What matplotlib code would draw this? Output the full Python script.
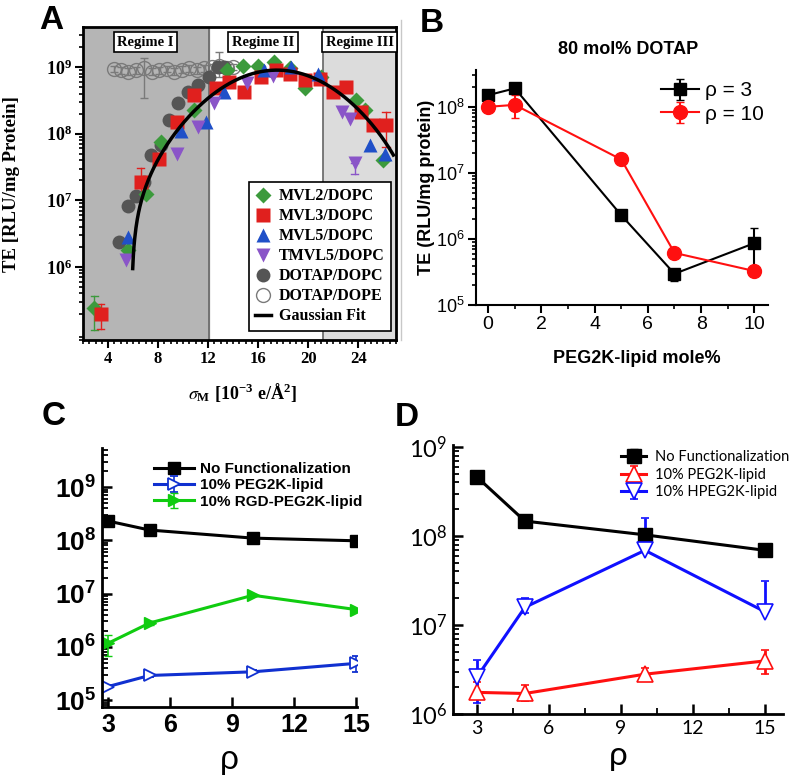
import numpy as np
import matplotlib.pyplot as plt
from matplotlib.ticker import LogLocator, MultipleLocator, NullFormatter
from matplotlib.lines import Line2D
from matplotlib.font_manager import FontProperties

# ---------------- panel A : TE vs membrane charge density (values as log10 TE)
mvl2_x = [2.9, 5.6, 7.0, 8.2, 10.9, 13.5, 14.8, 16.0, 17.3, 18.5, 19.7, 21.0, 23.8, 24.5, 26.0]
mvl2_log = [5.38, 6.26, 7.1, 7.88, 8.35, 8.95, 9.02, 9.02, 9.07, 8.98, 8.68, 8.85, 8.5, 8.35, 7.6]

mvl3_x = [3.4, 6.6, 8.1, 9.5, 10.9, 12.6, 13.7, 14.9, 16.2, 17.4, 18.5, 19.7, 20.9, 22.0, 23.0, 24.2, 25.2, 26.2]
mvl3_log = [5.3, 7.28, 7.62, 8.17, 8.58, 8.68, 8.78, 8.62, 8.85, 8.95, 8.9, 8.8, 8.82, 8.63, 8.7, 8.33, 8.13, 8.13]

mvl5_x = [5.6, 9.8, 11.8, 13.3, 16.5, 18.6, 20.8, 24.9, 26.1]
mvl5_log = [6.45, 8.04, 8.17, 8.63, 8.95, 9.0, 8.9, 7.83, 7.7]

tmvl5_x = [5.4, 9.5, 11.2, 12.5, 15.1, 17.2, 22.7, 23.3, 23.7]
tmvl5_log = [6.1, 7.7, 8.1, 8.46, 8.76, 8.86, 8.33, 8.22, 7.56]

dopc_x = [4.9, 5.6, 6.2, 6.9, 7.4, 8.2, 8.9, 9.6, 10.4, 11.2, 12.1, 12.8, 13.3]
dopc_log = [6.38, 6.92, 7.06, 7.28, 7.68, 7.83, 8.2, 8.46, 8.63, 8.73, 8.85, 9.0, 9.0]

dope_x = [4.5, 5.0, 5.6, 6.2, 6.9, 7.5, 8.1, 8.7, 9.3, 9.9, 10.5, 11.1, 11.7, 12.3, 12.9, 13.5, 14.0]
dope_log = [8.97, 8.95, 8.93, 8.95, 8.98, 8.93, 8.95, 8.97, 8.93, 8.96, 8.98, 8.95, 8.98, 9.0, 9.02, 8.98, 9.0]
dope_lo = [8.92, 8.9, 8.88, 8.9, 8.53, 8.88, 8.9, 8.92, 8.88, 8.91, 8.93, 8.9, 8.93, 8.95, 8.85, 8.93, 8.95]
dope_hi = [9.02, 9.0, 8.98, 9.0, 9.13, 8.98, 9.0, 9.02, 8.98, 9.01, 9.03, 9.0, 9.03, 9.05, 9.22, 9.03, 9.05]

# a few visible error bars on the coloured series
a_err_x = [2.9, 3.4, 6.6, 26.2, 23.7]
a_err_lo = [5.06, 5.07, 7.1, 7.8, 7.4]
a_err_hi = [5.57, 5.45, 7.49, 8.33, 7.56]
a_err_col = ['#3c9a3c', '#e0201e', '#e0201e', '#e0201e', '#8a55c8']

# Gaussian fit
fit_amp = 9.14e8
fit_center = 17.5
fit_sigma = 4.0
fit_offset = -1.34e7
fit_xmin, fit_xmax = 5.97, 26.8

regime1_end = 12.1
regime3_start = 21.2

# ---------------- panel B : 80 mol% DOTAP
b_x = [0, 1, 5, 7, 10]
b_rho3 = [1.5e8, 1.9e8, 2.3e6, 3.0e5, 8.7e5]
b_rho3_lo = [1.4e8, 1.75e8, 2.1e6, 2.3e5, 3.5e5]
b_rho3_hi = [1.6e8, 2.05e8, 2.6e6, 3.4e5, 1.45e6]
b_rho10 = [1.0e8, 1.07e8, 1.6e7, 6.2e5, 3.3e5]
b_rho10_lo = [9.3e7, 6.8e7, 1.5e7, 5.8e5, 2.9e5]
b_rho10_hi = [1.07e8, 1.5e8, 1.7e7, 6.6e5, 3.6e5]

# ---------------- panel C
c_rho = [3, 5, 10, 15]
c_none = [2.3e8, 1.56e8, 1.1e8, 9.8e7]
c_peg = [1.8e5, 2.9e5, 3.4e5, 4.9e5]
c_peg_lo = [1.7e5, 2.7e5, 3.2e5, 3.4e5]
c_peg_hi = [1.9e5, 3.1e5, 3.6e5, 6.6e5]
c_rgd = [1.17e6, 2.8e6, 9.3e6, 5.0e6]
c_rgd_lo = [6.6e5, 2.6e6, 8.9e6, 4.8e6]
c_rgd_hi = [1.66e6, 3.0e6, 9.7e6, 5.2e6]

# ---------------- panel D
d_rho = [3, 5, 10, 15]
d_none = [4.6e8, 1.47e8, 1.03e8, 6.9e7]
d_none_lo = [4.3e8, 1.35e8, 9.5e7, 6.3e7]
d_none_hi = [4.9e8, 1.6e8, 1.1e8, 7.5e7]
d_peg = [1.75e6, 1.7e6, 2.8e6, 3.95e6]
d_peg_lo = [1.48e6, 1.4e6, 2.35e6, 2.8e6]
d_peg_hi = [2.3e6, 2.1e6, 3.3e6, 5.2e6]
d_hpeg = [2.6e6, 1.58e7, 6.9e7, 1.41e7]
d_hpeg_lo = [1.33e6, 1.35e7, 6.9e7, 1.41e7]
d_hpeg_hi = [4.0e6, 2.0e7, 1.6e8, 3.1e7]

SERIF = 'Liberation Serif'
SANS = 'Liberation Sans'
CAL = 'Lato'

fig = plt.figure(figsize=(8.03, 7.75), dpi=100)


def log_minor(ax):
    ax.yaxis.set_minor_locator(LogLocator(base=10, subs=np.arange(2, 10), numticks=30))
    ax.yaxis.set_minor_formatter(NullFormatter())


def errs(vals, lo, hi):
    vals, lo, hi = np.array(vals), np.array(lo), np.array(hi)
    return [vals - lo, hi - vals]


def decade_labels(exps):
    return [r'$\mathregular{10^{%d}}$' % e for e in exps]


# ================= A
axA = fig.add_axes([0.1034, 0.561, 0.3896, 0.404])
axA.set_yscale('log')
axA.set_xlim(2, 27)
axA.set_ylim(10 ** 4.9, 10 ** 9.6)
axA.axvspan(2, regime1_end, color='#b5b5b5', zorder=0)
axA.axvspan(regime3_start, 27, color='#dcdcdc', zorder=0)
axA.axvline(regime1_end, color='#666666', lw=1.2, zorder=1)
axA.axvline(regime3_start, color='#666666', lw=1.2, zorder=1)

dl = np.array(dope_log)
axA.errorbar(dope_x, 10 ** dl, yerr=errs(10 ** dl, 10 ** np.array(dope_lo), 10 ** np.array(dope_hi)),
             fmt='o', ms=10, mfc='none', mec='#7a7a7a', ecolor='#7a7a7a', mew=1.0,
             elinewidth=1.0, capsize=3, zorder=2)
for x, lo, hi, col in zip(a_err_x, a_err_lo, a_err_hi, a_err_col):
    axA.plot([x, x], [10 ** lo, 10 ** hi], color=col, lw=1.0, zorder=2)
    for yy in (lo, hi):
        axA.plot([x - 0.3, x + 0.3], [10 ** yy, 10 ** yy], color=col, lw=1.0, zorder=2)

hA = []
hA.append(axA.plot(mvl2_x, 10 ** np.array(mvl2_log), 'D', ms=8, color='#3c9a3c', mec='none',
                   label='MVL2/DOPC', zorder=4)[0])
hA.append(axA.plot(mvl3_x, 10 ** np.array(mvl3_log), 's', ms=10, color='#e0201e', mec='none',
                   label='MVL3/DOPC', zorder=4)[0])
hA.append(axA.plot(mvl5_x, 10 ** np.array(mvl5_log), '^', ms=10, color='#2050c8', mec='none',
                   label='MVL5/DOPC', zorder=4)[0])
hA.append(axA.plot(tmvl5_x, 10 ** np.array(tmvl5_log), 'v', ms=10, color='#8a55c8', mec='none',
                   label='TMVL5/DOPC', zorder=4)[0])
hA.append(axA.plot(dopc_x, 10 ** np.array(dopc_log), 'o', ms=10, color='#555555', mec='none',
                   label='DOTAP/DOPC', zorder=3)[0])
hA.append(Line2D([], [], ls='none', marker='o', ms=10, mfc='none', mec='#7a7a7a', label='DOTAP/DOPE'))

fx = np.linspace(fit_xmin, fit_xmax, 400)
fy = fit_amp * np.exp(-(fx - fit_center) ** 2 / (2 * fit_sigma ** 2)) + fit_offset
hA.append(axA.plot(fx, fy, color='black', lw=2.5, label='Gaussian Fit', zorder=5)[0])

axA.set_xticks([4, 8, 12, 16, 20, 24], ['4', '8', '12', '16', '20', '24'],
               fontfamily=SERIF, fontweight='bold', fontsize=12)
axA.xaxis.set_minor_locator(MultipleLocator(0.5))
axA.set_yticks([1e6, 1e7, 1e8, 1e9], decade_labels([6, 7, 8, 9]),
               fontfamily=SERIF, fontweight='bold', fontsize=13)
log_minor(axA)
axA.tick_params(which='major', direction='out', length=6, width=1.5, pad=2)
axA.tick_params(which='minor', direction='out', length=3, width=1.2)
for s in axA.spines.values():
    s.set_linewidth(2)
axA.set_ylabel('TE [RLU/mg Protein]', fontfamily=SERIF, fontweight='bold', fontsize=13.5)
axA.yaxis.set_label_coords(-0.2, 0.5)
axA.set_xlabel(r'$\sigma_{\mathregular{M}}$ [10$^{\mathregular{-3}}$ e/Å$^{\mathregular{2}}$]',
               fontfamily=SERIF, fontweight='bold', fontsize=13, math_fontfamily='stix')
axA.xaxis.set_label_coords(0.51, -0.13)

for txt, xr in [('Regime I', 7.0), ('Regime II', 16.4), ('Regime III', 24.1)]:
    axA.text(xr, 0.952, txt, transform=axA.get_xaxis_transform(), ha='center', va='center',
             fontfamily=SERIF, fontweight='bold', fontsize=10.5,
             bbox=dict(boxstyle='square,pad=0.25', fc='white', ec='black', lw=1.2), zorder=6)

legA = axA.legend(handles=hA, loc='lower right', bbox_to_anchor=(0.985, 0.03),
                  prop=FontProperties(family=SERIF, weight='bold', size=11.5),
                  fancybox=False, edgecolor='black', framealpha=1, handlelength=1.0,
                  handletextpad=0.5, labelspacing=0.25, borderpad=0.4, borderaxespad=0)
legA.get_frame().set_linewidth(1.2)
legA.set_zorder(7)

# ================= B
axB = fig.add_axes([0.593, 0.606, 0.363, 0.304])
axB.set_yscale('log')
axB.errorbar(b_x, b_rho3, yerr=errs(b_rho3, b_rho3_lo, b_rho3_hi), color='black', marker='s',
             ms=9, lw=1.5, capsize=3, elinewidth=1.5, label='ρ = 3')
axB.errorbar(b_x, b_rho10, yerr=errs(b_rho10, b_rho10_lo, b_rho10_hi), color='#ff1010', marker='o',
             ms=10, lw=1.5, capsize=3, elinewidth=1.5, label='ρ = 10')
axB.set_xlim(-0.45, 10.5)
axB.set_ylim(1e5, 10 ** 8.56)
axB.spines[['top', 'right']].set_visible(False)
for s in axB.spines.values():
    s.set_linewidth(1.5)
axB.set_xticks([0, 2, 4, 6, 8, 10], ['0', '2', '4', '6', '8', '10'], fontfamily=SANS, fontsize=14)
axB.xaxis.set_minor_locator(MultipleLocator(1))
axB.set_yticks([1e5, 1e6, 1e7, 1e8], decade_labels([5, 6, 7, 8]), fontfamily=SANS, fontsize=13)
log_minor(axB)
axB.tick_params(which='major', direction='out', length=6, width=1.5, pad=2)
axB.tick_params(which='minor', direction='out', length=3, width=1.2)
axB.set_ylabel('TE (RLU/mg protein)', fontfamily=SANS, fontweight='bold', fontsize=13)
axB.yaxis.set_label_coords(-0.14, 0.5)
axB.set_xlabel('PEG2K-lipid mole%', fontfamily=SANS, fontweight='bold', fontsize=13)
axB.xaxis.set_label_coords(0.55, -0.19)
axB.set_title('80 mol% DOTAP', fontfamily=SANS, fontweight='bold', fontsize=13, x=0.52, y=1.03)
axB.legend(loc='upper left', bbox_to_anchor=(0.57, 1.03), frameon=False, handlelength=1.8,
           handletextpad=0.3, labelspacing=0.2, prop=FontProperties(family=SANS, size=15))

# ================= C
axC = fig.add_axes([0.127, 0.0877, 0.318, 0.334])
axC.set_yscale('log')
axC.errorbar(c_rho, c_none, color='black', marker='s', ms=8, lw=2.2, label='No Functionalization')
axC.errorbar(c_rho, c_peg, yerr=errs(c_peg, c_peg_lo, c_peg_hi), color='#1030d0', marker='>', ms=8,
             mfc='white', mew=1.3, lw=2.2, capsize=3, elinewidth=1.2, label='10% PEG2K-lipid')
axC.errorbar(c_rho, c_rgd, yerr=errs(c_rgd, c_rgd_lo, c_rgd_hi), color='#10cc10', marker='>', ms=9,
             lw=2.2, capsize=3, elinewidth=1.2, label='10% RGD-PEG2K-lipid')
axC.set_xlim(2.7, 15.05)
axC.set_ylim(10 ** 4.87, 10 ** 9.73)
axC.spines[['top', 'right']].set_visible(False)
for s in axC.spines.values():
    s.set_linewidth(2)
axC.set_xticks([3, 6, 9, 12, 15], ['3', '6', '9', '12', '15'], fontfamily=SANS, fontweight='bold',
               fontsize=18)
axC.set_yticks([1e5, 1e6, 1e7, 1e8, 1e9], decade_labels([5, 6, 7, 8, 9]),
               fontfamily=SANS, fontweight='bold', fontsize=19)
log_minor(axC)
axC.tick_params(which='major', direction='in', length=7, width=1.8, pad=4)
axC.tick_params(which='minor', direction='in', length=4, width=1.3)
axC.set_xlabel('ρ', fontfamily=SANS, fontsize=24)
axC.xaxis.set_label_coords(0.5, -0.145)
axC.legend(loc='upper left', bbox_to_anchor=(0.15, 1.0), frameon=False, handlelength=2.6,
           handletextpad=0.4, labelspacing=0.15, prop=FontProperties(family=SANS, weight='bold', size=11))

# ================= D
axD = fig.add_axes([0.564, 0.0787, 0.411, 0.347])
axD.set_yscale('log')
axD.errorbar(d_rho, d_none, yerr=errs(d_none, d_none_lo, d_none_hi), color='black', marker='s', ms=10,
             lw=2.2, capsize=3, elinewidth=2, label='No Functionalization')
axD.errorbar(d_rho, d_peg, yerr=errs(d_peg, d_peg_lo, d_peg_hi), color='#ff1010', marker='^', ms=12,
             mfc='white', mew=1.2, lw=2.2, capsize=3, elinewidth=2, label='10% PEG2K-lipid')
axD.errorbar(d_rho, d_hpeg, yerr=errs(d_hpeg, d_hpeg_lo, d_hpeg_hi), color='#1010ff', marker='v', ms=12,
             mfc='white', mew=1.2, lw=2.2, capsize=3, elinewidth=2, label='10% HPEG2K-lipid')
axD.set_xlim(2.0, 15.75)
axD.set_ylim(1e6, 1.05e9)
axD.spines[['top', 'right']].set_visible(False)
for s in axD.spines.values():
    s.set_linewidth(2)
axD.set_xticks([3, 6, 9, 12, 15], ['3', '6', '9', '12', '15'], fontfamily=CAL, fontsize=14)
axD.xaxis.set_minor_locator(MultipleLocator(1.5))
axD.set_yticks([1e6, 1e7, 1e8, 1e9], decade_labels([6, 7, 8, 9]), fontfamily=CAL, fontsize=17)
log_minor(axD)
axD.tick_params(which='major', direction='in', length=7, width=1.8, pad=4)
axD.tick_params(which='minor', direction='in', length=4, width=1.3)
axD.set_xlabel('ρ', fontfamily=CAL, fontsize=24)
axD.xaxis.set_label_coords(0.5, -0.1)
axD.legend(loc='upper left', bbox_to_anchor=(0.47, 1.03), frameon=False, handlelength=1.7,
           handletextpad=0.6, labelspacing=0.25, prop=FontProperties(family=CAL, size=10.5))

# ================= panel letters and separator
for letter, xf, yf in [('A', 0.0635, 0.974), ('B', 0.538, 0.970), ('C', 0.0672, 0.462), ('D', 0.506, 0.461)]:
    fig.text(xf, yf, letter, ha='center', va='center', fontfamily=SANS, fontweight='bold', fontsize=24)
fig.add_artist(Line2D([0.4994, 0.4994], [1 - 340 / 775, 1 - 20 / 775], color='#c8c8c8', lw=1))

fig.savefig('out.png', dpi=100)
